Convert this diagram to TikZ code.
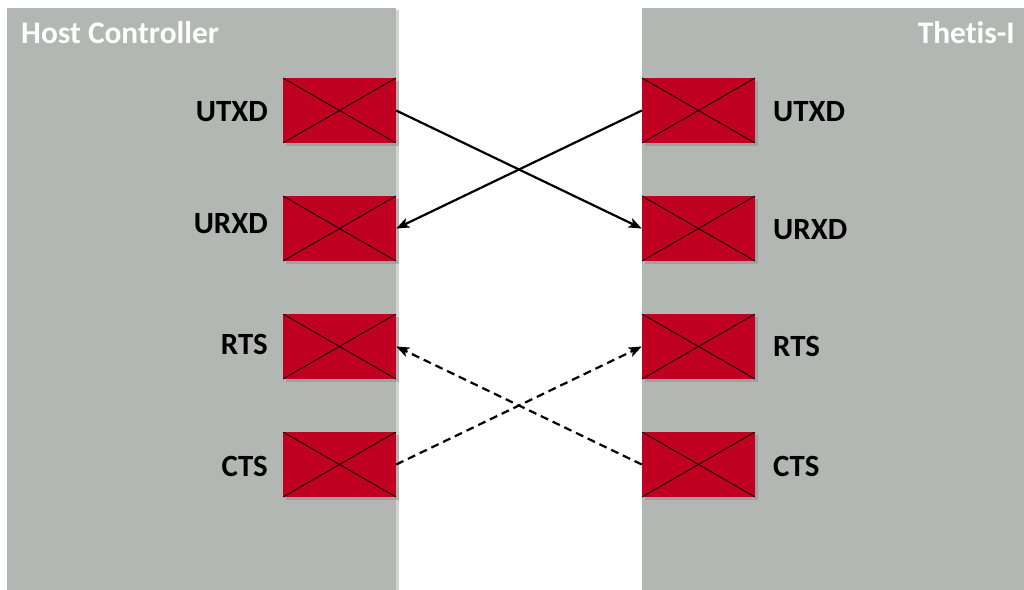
\documentclass[tikz,border=0pt]{standalone}
\usepackage{fontspec}
\setmainfont{Carlito}[Ligatures=NoCommon]
\usetikzlibrary{arrows.meta,shadows}
\definecolor{panelgray}{HTML}{B2B7B4}
\definecolor{padred}{HTML}{C00020}
\tikzset{
  panel/.style={fill=panelgray, draw=none, drop shadow={opacity=0.35, shadow xshift=3bp, shadow yshift=-2bp}},
  pad/.style={fill=padred, draw=none, minimum width=113bp, minimum height=65bp, inner sep=0pt,
    drop shadow={opacity=0.4, shadow xshift=3bp, shadow yshift=-3bp},
    path picture={\draw[black, line width=0.8bp] (path picture bounding box.north west) -- (path picture bounding box.south east)
      (path picture bounding box.south west) -- (path picture bounding box.north east);}},
  pinlabel/.style={font=\fontsize{31}{36}\selectfont\bfseries, text=black, inner sep=0pt},
  title/.style={font=\fontsize{31.5}{36}\selectfont\bfseries, text=white, inner sep=0pt},
  wire/.style={line width=2.2bp, -{Stealth[length=13bp, width=10bp, inset=3bp]}},
  dwire/.style={wire, dash pattern=on 8bp off 5bp}
}
\begin{document}
\begin{tikzpicture}[x=1bp, y=-1bp]
\useasboundingbox (0,0) rectangle (1024,590);
\path[panel] (7,8) rectangle (396,600);
\path[panel] (642,8) rectangle (1030,600);
\node[title, anchor=base west] (ltitle) at (21,44) {Host Controller};
\node[title, anchor=base east] (rtitle) at (1015,44) {Thetis-I};
% left pads
\node[pad] (lU) at (339.5,110.5) {};
\node[pad] (lR) at (339.5,228.5) {};
\node[pad] (lRT) at (339.5,346.5) {};
\node[pad] (lC) at (339.5,464.5) {};
% right pads
\node[pad] (rU) at (698.5,110.5) {};
\node[pad] (rR) at (698.5,228.5) {};
\node[pad] (rRT) at (698.5,346.5) {};
\node[pad] (rC) at (698.5,464.5) {};
% labels
\node[pinlabel, anchor=east] (lUl) at (268,112) {UTXD};
\node[pinlabel, anchor=east] (lRl) at (268,224) {URXD};
\node[pinlabel, anchor=east] (lRTl) at (268,344) {RTS};
\node[pinlabel, anchor=east] (lCl) at (268,466) {CTS};
\node[pinlabel, anchor=west] (rUl) at (773,112) {UTXD};
\node[pinlabel, anchor=west] (rRl) at (773,230) {URXD};
\node[pinlabel, anchor=west] (rRTl) at (773,346) {RTS};
\node[pinlabel, anchor=west] (rCl) at (773,466) {CTS};
% wires
\draw[wire] (lU.east) -- (rR.west);
\draw[wire] (rU.west) -- (lR.east);
\draw[dwire] (lC.east) -- (rRT.west);
\draw[dwire] (rC.west) -- (lRT.east);
\end{tikzpicture}
\end{document}
